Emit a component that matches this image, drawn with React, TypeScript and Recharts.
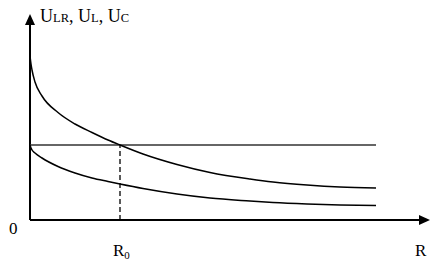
import React from "react";
import { LineChart, Line, XAxis, YAxis, ReferenceLine } from "recharts";

// R values (arbitrary units) and the three voltages
const rValues = [0, 1, 2, 5, 12, 28, 45, 62, 78, 90, 113, 147, 180, 220, 243, 277, 310, 346];
const uC = [164, 156, 150, 138, 124, 107.5, 96, 87.5, 80, 75, 66, 55.5, 47.5, 41, 38, 35, 33, 32];
const uL = [75, 72, 70, 67, 62, 53.5, 47, 42, 38.5, 36, 31.5, 26, 22, 19, 17.5, 16, 15, 14.5];
const uLR = [75, 75, 75, 75, 75, 75, 75, 75, 75, 75, 75, 75, 75, 75, 75, 75, 75, 75];

const r0 = 90;
const rMax = 400;
const uMax = 206;

const data = rValues.map((r, i) => ({ r, uC: uC[i], uL: uL[i], uLR: uLR[i] }));

const W = 445;
const H = 270;
const margin = { top: 14, right: 15, left: 30, bottom: 50 };
const font = "'Liberation Serif', 'Times New Roman', serif";

// axis arrow heads sit at the ends of the plot area
const plotRight = W - margin.right;
const plotBottom = H - margin.bottom;
const head = 11;
const half = 5;

export default function App() {
  return (
    <div style={{ position: "absolute", left: 0, top: 0, width: W, height: H, background: "#fff" }}>
      <LineChart width={W} height={H} data={data} margin={margin}>
        <XAxis dataKey="r" type="number" domain={[0, rMax]} hide />
        <YAxis type="number" domain={[0, uMax]} hide />
        <ReferenceLine segment={[{ x: 0, y: 0 }, { x: rMax - 10, y: 0 }]} stroke="#000" strokeWidth={2} ifOverflow="visible" />
        <ReferenceLine segment={[{ x: 0, y: 0 }, { x: 0, y: uMax - 10 }]} stroke="#000" strokeWidth={2} ifOverflow="visible" />
        <ReferenceLine
          segment={[{ x: r0, y: 0 }, { x: r0, y: uLR[0] }]}
          stroke="#000"
          strokeWidth={1.3}
          strokeDasharray="5 3"
        />
        <Line dataKey="uLR" type="linear" stroke="#333" strokeWidth={1.5} dot={false} isAnimationActive={false} />
        <Line dataKey="uC" type="monotone" stroke="#000" strokeWidth={1.5} dot={false} isAnimationActive={false} />
        <Line dataKey="uL" type="monotone" stroke="#000" strokeWidth={1.5} dot={false} isAnimationActive={false} />
      </LineChart>
      <svg
        width={W}
        height={H}
        style={{ position: "absolute", left: 0, top: 0, pointerEvents: "none" }}
        fontFamily={font}
        fill="#000"
      >
        <path
          d={`M${margin.left},${margin.top} L${margin.left - half},${margin.top + head} L${margin.left + half},${margin.top + head} Z`}
          fill="#000"
        />
        <path
          d={`M${plotRight},${plotBottom} L${plotRight - head},${plotBottom - half} L${plotRight - head},${plotBottom + half} Z`}
          fill="#000"
        />
        <text x={40} y={22} fontSize={18}>
          U<tspan fontSize={12.5}>LR</tspan>, U<tspan fontSize={12.5}>L</tspan>, U<tspan fontSize={12.5}>C</tspan>
        </text>
        <text x={9} y={234} fontSize={17}>0</text>
        <text x={113} y={256} fontSize={17}>
          R<tspan fontSize={11} dy={3}>0</tspan>
        </text>
        <text x={415} y={256} fontSize={17}>R</text>
      </svg>
    </div>
  );
}
